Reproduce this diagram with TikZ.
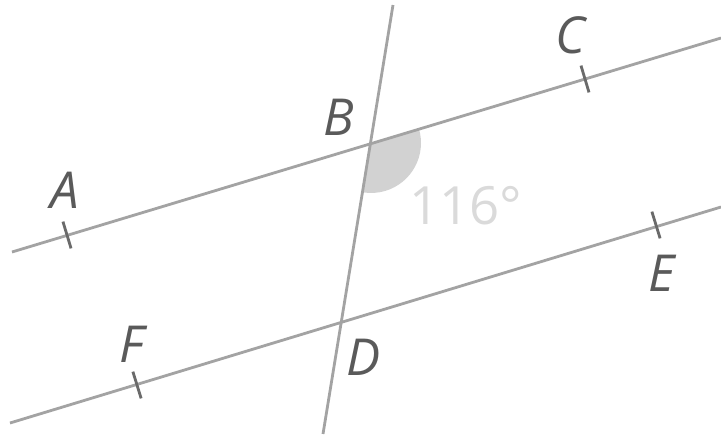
\documentclass[tikz,border=0pt]{standalone}
\usepackage{fontspec}
\setmainfont{Open Sans}
\usetikzlibrary{calc}
\definecolor{linegray}{HTML}{A3A3A3}
\definecolor{tickgray}{HTML}{6A6A6A}
\definecolor{labelgray}{HTML}{5A5A5A}
\definecolor{anglegray}{HTML}{D2D2D2}
\definecolor{valgray}{HTML}{DADADA}
\tikzset{
  geoline/.style={draw=linegray, line width=1.6pt},
  ticker/.style={draw=tickgray, line width=1.6pt},
  ptlabel/.style={text=labelgray, font=\fontsize{29}{29}\selectfont\itshape, inner sep=0pt}
}

\begin{document}
\begin{tikzpicture}[x=0.02cm, y=-0.02cm]
  \useasboundingbox (0,0) rectangle (721,434);
  % points on the lines
  \coordinate (B) at (371,143);
  \coordinate (D) at (341,322);
  \coordinate (A) at (67,235);
  \coordinate (C) at (585,79);
  \coordinate (F) at (137,385);
  \coordinate (E) at (656,225);
  % line ends
  \coordinate (up1) at (12,252);
  \coordinate (up2) at (721,38);
  \coordinate (lo1) at (10,423);
  \coordinate (lo2) at (721,207);
  \coordinate (tr1) at (393,5);
  \coordinate (tr2) at (323,434);
  % angle at B
  \fill[anglegray] (B) -- +(16.7:1cm) arc[start angle=16.7, end angle=-99.5, radius=1cm] -- cycle;
  \node[text=valgray, font=\fontsize{30}{30}\selectfont, inner sep=0pt] (ang) at (466,206) {116°};
  % lines
  \draw[geoline] (up1) -- (up2);
  \draw[geoline] (lo1) -- (lo2);
  \draw[geoline] (tr1) -- (tr2);
  % ticks
  \foreach \p/\q in {A/B,C/B,F/D,E/D}
    \draw[ticker] ($(\p)!0.28cm!90:(\q)$) -- ($(\p)!0.28cm!-90:(\q)$);
  % labels
  \node[ptlabel] (lA) at (65,190) {A};
  \node[ptlabel] (lB) at (339,117) {B};
  \node[ptlabel] (lC) at (570,35) {C};
  \node[ptlabel] (lE) at (662,273) {E};
  \node[ptlabel] (lF) at (132,344) {F};
  \node[ptlabel] (lD) at (364,357) {D};
\end{tikzpicture}
\end{document}
